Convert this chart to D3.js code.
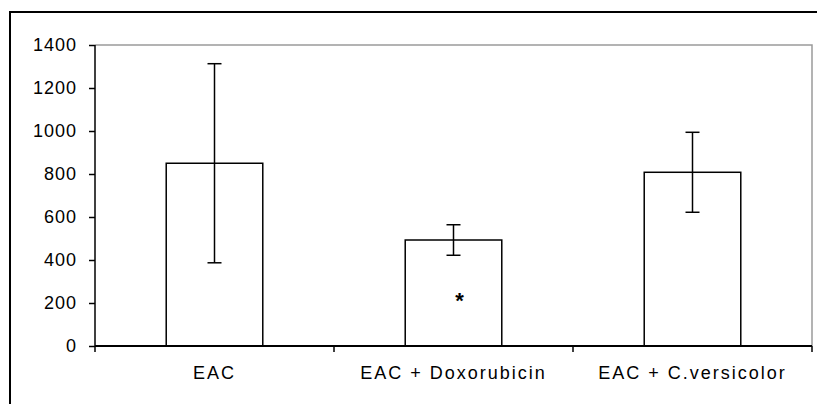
<!DOCTYPE html>
<html>
<head>
<meta charset="utf-8">
<script src="https://cdn.jsdelivr.net/npm/d3@7"></script>
<style>
  body { margin: 0; background: #fff; }
  svg text { font-family: "Liberation Sans", Arial, sans-serif; fill: #000; }
</style>
</head>
<body>
<div id="chart"></div>
<script>
// group means and errors
var groups = ["EAC", "EAC + Doxorubicin", "EAC + C.versicolor"];
var means = [850, 493, 808];
var errs = [463, 71, 186];
var marked = [false, true, false];   // significance star
var yTicks = [0, 200, 400, 600, 800, 1000, 1200, 1400];

var W = 817, H = 404;
var pLeft = 95, pRight = 812, pTop = 45, pBottom = 346;

var svg = d3.select("#chart").append("svg")
    .attr("width", W)
    .attr("height", H);

// outer frame (only top and left edges fall inside the picture)
svg.append("path")
    .attr("d", "M10,404 V12 H817")
    .attr("fill", "none")
    .attr("stroke", "#000")
    .attr("stroke-width", 2);

var x = d3.scaleBand().domain(groups).range([pLeft, pRight]).paddingInner(0).paddingOuter(0);
var y = d3.scaleLinear().domain([0, 1400]).range([pBottom, pTop]);

// plot area border (grey top/right)
svg.append("path")
    .attr("d", "M" + pLeft + "," + pTop + " H" + pRight + " V" + pBottom)
    .attr("fill", "none")
    .attr("stroke", "#9a9a9a")
    .attr("stroke-width", 1.5);

var bw = x.bandwidth() * 0.404;

svg.selectAll("rect.bar").data(groups).enter().append("rect")
    .attr("class", "bar")
    .attr("x", function(d){return x(d) + x.bandwidth()/2 - bw/2})
    .attr("y", function(d, i){return y(means[i])})
    .attr("width", bw)
    .attr("height", function(d, i){return y(0) - y(means[i])})
    .attr("fill", "#fff")
    .attr("stroke", "#000")
    .attr("stroke-width", 1.5);

// error bars
var eb = svg.append("g").attr("stroke", "#000").attr("stroke-width", 1.5);
groups.forEach(function(g, i) {
    var cx = x(g) + x.bandwidth()/2;
    var hi = y(means[i] + errs[i]), lo = y(means[i] - errs[i]);
    eb.append("line").attr("x1", cx).attr("x2", cx).attr("y1", hi).attr("y2", lo);
    eb.append("line").attr("x1", cx - 7).attr("x2", cx + 7).attr("y1", hi).attr("y2", hi);
    eb.append("line").attr("x1", cx - 7).attr("x2", cx + 7).attr("y1", lo).attr("y2", lo);
});

// y axis
var yAxis = svg.append("g")
    .attr("transform", "translate(" + pLeft + ",0)")
    .call(d3.axisLeft(y).tickValues(yTicks).tickSize(6).tickPadding(12).tickFormat(d3.format("d")));
yAxis.select(".domain").attr("stroke", "#000").attr("stroke-width", 1.5).attr("d", "M0," + pTop + "V" + (pBottom + 6));
yAxis.selectAll(".tick line").attr("stroke", "#000").attr("stroke-width", 1.5);
yAxis.selectAll("text").attr("font-size", 18).style("letter-spacing", "1px")
    .attr("font-family", "Liberation Sans, Arial, sans-serif");

// x axis with ticks between categories
var xg = svg.append("g");
xg.append("line")
    .attr("x1", pLeft).attr("x2", pRight)
    .attr("y1", y(0)).attr("y2", y(0))
    .attr("stroke", "#000").attr("stroke-width", 2);
var bounds = groups.map(function(g){return x(g)}).concat([pRight]);
xg.selectAll("line.tk").data(bounds.slice(1)).enter().append("line")
    .attr("class", "tk")
    .attr("x1", function(d){return d}).attr("x2", function(d){return d})
    .attr("y1", y(0)).attr("y2", y(0) + 6)
    .attr("stroke", "#000").attr("stroke-width", 1.5);
xg.selectAll("text.xl").data(groups).enter().append("text")
    .attr("class", "xl")
    .attr("x", function(d){return x(d) + x.bandwidth()/2})
    .attr("y", 379)
    .attr("text-anchor", "middle")
    .attr("font-size", 18)
    .style("letter-spacing", "2px")
    .text(function(d){return d});

// significance star
svg.selectAll("text.star").data(groups.filter(function(g, i){return marked[i]})).enter().append("text")
    .attr("class", "star")
    .attr("x", function(d){return x(d) + x.bandwidth()/2 + 6})
    .attr("y", 308)
    .attr("text-anchor", "middle")
    .attr("font-size", 22)
    .attr("font-weight", "bold")
    .text("*");
</script>
</body>
</html>
